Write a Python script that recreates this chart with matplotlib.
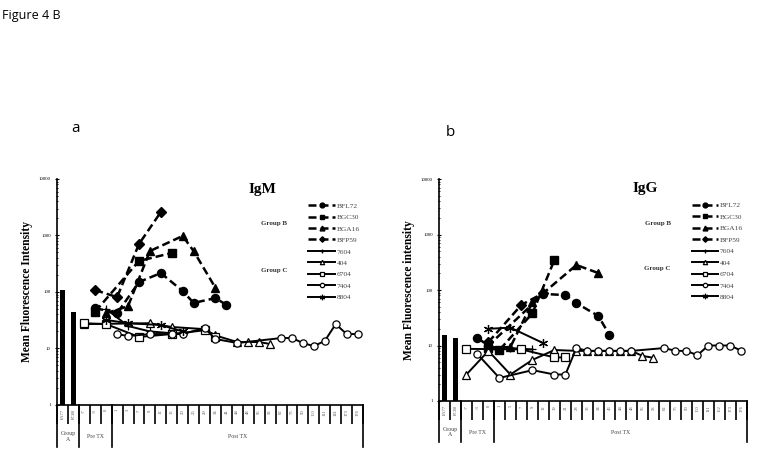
import matplotlib
matplotlib.use('Agg')
from matplotlib import pyplot as plt
from matplotlib import transforms as mtrans
from matplotlib.lines import Line2D
import numpy as np

# categorias del eje x (dias)
igm_days = ['FA77', 'FC80', '-7', '-3', '0', '1', '3', '7', '9', '12', '15', '20', '25', '29',
            '34', '41', '44', '48', '56', '58', '62', '75', '90', '100', '111', '141', '173', '176']
igg_days = ['FA77', 'FC80', '-7', '-3', '0', '1', '5', '7', '9', '12', '19', '21', '28', '33',
            '34', '43', '44', '48', '56', '58', '62', '75', '90', '100', '111', '162', '173', '176']
groups = ['Group\nA', 'Pre TX', 'Post TX']
group_sizes = [2, 3, 23]

# Grupo A (barras)
igm_bars = [108, 44]
igg_bars = [15.5, 13.6]

# IgM - Grupo B
igm_bfl72_d = ['-3', '1', '7', '12', '20', '25', '34', '41']
igm_bfl72_v = [52, 42, 150, 216, 104, 64, 78, 59]
igm_bgc30_d = ['-3', '7', '15']
igm_bgc30_v = [45, 354, 490]
igm_bga16_d = ['0', '3', '9', '20', '25', '34']
igm_bga16_v = [42, 56, 530, 980, 530, 118]
igm_bfp59_d = ['-3', '1', '7', '12']
igm_bfp59_v = [108, 81, 705, 2600]
# IgM - Grupo C
igm_7604_d = ['0', '3', '9', '20']
igm_7604_v = [50, 25, 20, 18]
igm_404_d = ['-7', '9', '15', '29', '34', '44', '48', '56', '58']
igm_404_v = [27, 28, 24, 22, 17, 13, 13, 13, 12]
igm_6704_d = ['-7', '0', '7', '15', '29', '34']
igm_6704_v = [28, 27, 16, 18, 21, 16]
igm_7404_d = ['1', '3', '9', '15', '20', '29', '34', '44', '62', '75', '90', '100', '111', '141', '173', '176']
igm_7404_v = [18, 16.6, 18, 18, 18, 23, 14.7, 12.5, 15.3, 15.3, 12.5, 11, 13.6, 27, 18, 18]
igm_8804_d = ['0', '3', '12', '20']
igm_8804_v = [32, 28, 26, 20]

# IgG - Grupo B
igg_bfl72_d = ['-3', '0', '12', '21', '28', '34', '43']
igg_bfl72_v = [13.6, 10, 85, 81, 58, 34, 15.5]
igg_bgc30_d = ['0', '1', '9', '19']
igg_bgc30_v = [9, 8.3, 38, 347]
igg_bga16_d = ['0', '5', '9', '28', '34']
igg_bga16_v = [9, 9.4, 60, 282, 202]
igg_bfp59_d = ['0', '7', '12']
igg_bfp59_v = [11.5, 54, 88]
# IgG - Grupo C
igg_7604_d = ['0', '5', '9']
igg_7604_v = [9.5, 9, 8.5]
igg_404_d = ['-7', '0', '5', '9', '19', '28', '33', '34', '43', '44', '48', '56', '58']
igg_404_v = [3, 8, 3, 5.5, 8.3, 8, 8, 8, 8, 8, 8, 6.5, 6]
igg_6704_d = ['-7', '7', '19', '21']
igg_6704_v = [8.7, 8.5, 6.1, 6.1]
igg_7404_d = ['-3', '1', '9', '19', '21', '28', '33', '34', '43', '44', '48', '62', '75', '90',
              '100', '111', '162', '173', '176']
igg_7404_v = [7, 2.6, 3.6, 3, 3, 9, 8, 8, 8, 8, 8, 9, 8, 8, 6.7, 10, 10, 10, 8]
igg_8804_d = ['0', '5', '12']
igg_8804_v = [20, 21, 11]

names = ['BFL72', 'BGC30', 'BGA16', 'BFP59', '7604', '404', '6704', '7404', '8804']

plt.rcParams['font.family'] = ['Liberation Serif', 'DejaVu Serif']

# estilos de cada serie
dash_kw = dict(color='black', linestyle=(0, (3.2, 1.6)), linewidth=1.8, markersize=5.8)
solid_kw = dict(color='black', linestyle='-', linewidth=1.4, markersize=5.2, markerfacecolor='white',
                markeredgewidth=0.9)
styles = [dict(marker='o', **dash_kw), dict(marker='s', **dash_kw), dict(marker='^', **dash_kw),
          dict(marker='D', **{**dash_kw, 'markersize': 4.6}),
          dict(marker='+', **solid_kw), dict(marker='^', **solid_kw), dict(marker='s', **solid_kw),
          dict(marker='o', **solid_kw), dict(marker=(6, 2, 0), **{**solid_kw, 'markersize': 6.5})]


def panel(ax, days, bars, series, title, ylabel):
    pos = {d: i + 0.5 for i, d in enumerate(days)}
    ax.bar([0.5, 1.5], bars, width=0.4, color='black', zorder=1)
    handles = []
    for (d, v), name, st in zip(series, names, styles):
        h, = ax.plot([pos[k] for k in d], v, label=name, zorder=3, **st)
        handles.append(h)
    ax.set_yscale('log')
    ax.set_ylim(1, 10000)
    ax.set_xlim(0, len(days))
    ax.spines['top'].set_visible(False)
    ax.spines['right'].set_visible(False)
    ax.spines['left'].set_linewidth(1.2)
    ax.spines['bottom'].set_linewidth(1.2)
    ax.set_yticks([1, 10, 100, 1000, 10000])
    ax.set_yticklabels(['1', '10', '100', '1000', '10000'])
    ax.tick_params(axis='y', which='major', labelsize=3.5, length=3, direction='inout', width=0.8, pad=3)
    ax.tick_params(axis='y', which='minor', length=1.5, direction='inout', width=0.6)
    # tabla bajo el eje x
    ax.set_xticks(np.arange(len(days)) + 0.5)
    ax.set_xticklabels(days, rotation=90, fontsize=3.3, color='#555555')
    ax.set_xticks(np.arange(len(days) + 1), minor=True)
    ax.tick_params(axis='x', which='major', length=0, pad=3)
    ax.tick_params(axis='x', which='minor', length=14, width=1.2, direction='out')
    tr = mtrans.blended_transform_factory(ax.transData, ax.transAxes)
    edges = np.concatenate([[0], np.cumsum(group_sizes)])
    for e in edges:
        ax.add_line(Line2D([e, e], [0, -0.185], transform=tr, color='black', lw=1.2, clip_on=False))
    for g, a, b in zip(groups, edges[:-1], edges[1:]):
        ax.text((a + b) / 2, -0.14, g, transform=tr, ha='center', va='center', fontsize=4.2,
                color='#444444', linespacing=1.1)
    ax.text(0.67, 0.94, title, transform=ax.transAxes, fontsize=11, fontweight='bold', ha='center')
    ax.set_ylabel(ylabel, fontsize=8.3, fontweight='bold', labelpad=4)
    leg = ax.legend(handles=handles, loc='upper left', bbox_to_anchor=(0.8, 0.925), frameon=False,
                    fontsize=5.3, handlelength=3.6, labelspacing=0.72, handletextpad=0.2,
                    markerscale=0.6)
    for t in leg.get_texts():
        t.set_color('#444444')
    ax.text(0.71, 0.795, 'Group B', transform=ax.transAxes, fontsize=5, fontweight='bold',
            ha='center', color='#333333')
    ax.text(0.71, 0.59, 'Group C', transform=ax.transAxes, fontsize=5, fontweight='bold',
            ha='center', color='#333333')


fig = plt.figure(figsize=(7.62, 4.53), dpi=100)
ax1 = fig.add_axes([0.0748, 0.106, 0.4016, 0.4989])
ax2 = fig.add_axes([0.576, 0.1148, 0.4042, 0.490])

panel(ax1, igm_days, igm_bars,
      [(igm_bfl72_d, igm_bfl72_v), (igm_bgc30_d, igm_bgc30_v), (igm_bga16_d, igm_bga16_v),
       (igm_bfp59_d, igm_bfp59_v), (igm_7604_d, igm_7604_v), (igm_404_d, igm_404_v),
       (igm_6704_d, igm_6704_v), (igm_7404_d, igm_7404_v), (igm_8804_d, igm_8804_v)],
      'IgM', 'Mean Fluorescence Intensity')
panel(ax2, igg_days, igg_bars,
      [(igg_bfl72_d, igg_bfl72_v), (igg_bgc30_d, igg_bgc30_v), (igg_bga16_d, igg_bga16_v),
       (igg_bfp59_d, igg_bfp59_v), (igg_7604_d, igg_7604_v), (igg_404_d, igg_404_v),
       (igg_6704_d, igg_6704_v), (igg_7404_d, igg_7404_v), (igg_8804_d, igg_8804_v)],
      'IgG', 'Mean Fluorescence intensity')

fig.text(0.003, 0.965, 'Figure 4 B', fontsize=9, family=['Open Sans', 'DejaVu Sans'], va='center')
fig.text(0.093, 0.717, 'a', fontsize=11, family=['Open Sans', 'DejaVu Sans'], va='center')
fig.text(0.585, 0.708, 'b', fontsize=11, family=['Open Sans', 'DejaVu Sans'], va='center')

fig.savefig('out.png', dpi=100)
